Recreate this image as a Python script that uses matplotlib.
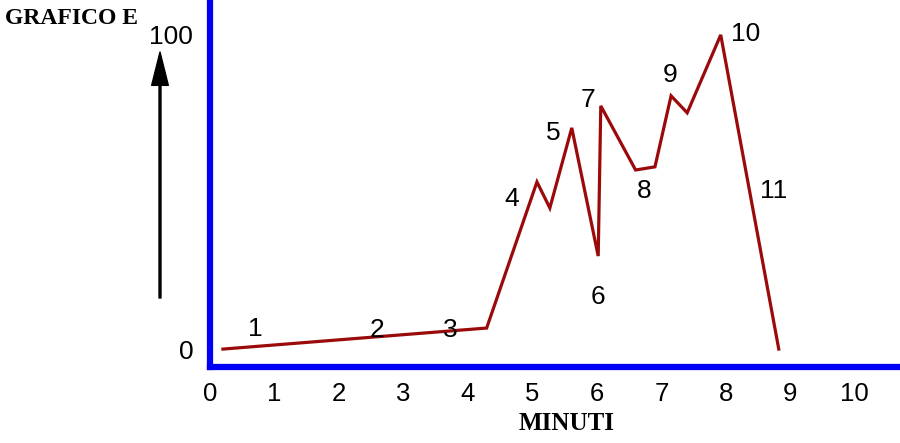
import matplotlib
matplotlib.use("Agg")
import matplotlib.pyplot as plt

# minutes / value of the curve
minuti = [0.20, 4.29, 5.07, 5.27, 5.61, 6.02, 6.06, 6.60, 6.90, 7.15, 7.40, 7.92, 8.82]
valori = [0, 6.7, 53.2, 44.9, 70.4, 29.6, 77.4, 57.0, 58.0, 80.6, 75.2, 100, 0]

# numbered labels and where they sit
etichette = ["1", "2", "3", "4", "5", "6", "7", "8", "9", "10", "11"]
etich_x = [0.71, 2.59, 3.72, 4.68, 5.32, 6.02, 5.86, 6.74, 7.13, 8.30, 8.74]
etich_y = [6.4, 6.1, 6.0, 47.8, 68.8, 16.6, 79.3, 50.3, 87.3, 100.3, 50.3]

xticks = list(range(0, 11))
yticks = [0, 100]

sans = "Liberation Sans"
serif = "Liberation Serif"

fig = plt.figure(figsize=(9, 4.43), dpi=100)
ax = fig.add_axes([210 / 900, 76 / 443, 690 / 900, 367 / 443])

ax.plot(minuti, valori, color="#9b0a0a", lw=2.3, solid_joinstyle="miter", zorder=3)

for t, x, y in zip(etichette, etich_x, etich_y):
    ax.text(x, y, t, fontsize=19, family=sans, ha="center", va="center")

ax.set_xlim(0, 10.70)
ax.set_ylim(-5.7, 111.1)
ax.set_xticks(xticks)
ax.set_xticklabels([str(v) for v in xticks], fontsize=18.5, family=sans)
ax.set_yticks(yticks)
ax.set_yticklabels([str(v) for v in yticks], fontsize=19, family=sans)
ax.tick_params(length=0)
ax.tick_params(axis="x", pad=11)
ax.tick_params(axis="y", pad=12)

for s in ["top", "right"]:
    ax.spines[s].set_visible(False)
for s in ["left", "bottom"]:
    ax.spines[s].set_color("#0000f5")
    ax.spines[s].set_linewidth(4.5)

ax.set_xlabel("MINUTI", fontsize=18, family=serif, fontweight="bold")
ax.xaxis.set_label_coords(0.517, -0.155)
ax.xaxis.label.set_va("center")

fig.text(5 / 900, 1 - 19 / 443, "GRAFICO E", fontsize=17, family=serif,
         fontweight="bold", ha="left", va="center")

fig.add_artist(plt.Annotation("", xy=(160 / 900, 1 - 52 / 443), xycoords="figure fraction",
                              xytext=(160 / 900, 1 - 298 / 443), textcoords="figure fraction",
                              arrowprops=dict(width=1.4, headwidth=12, headlength=24,
                                              color="black", shrink=0)))

fig.savefig("out.png", dpi=100)
